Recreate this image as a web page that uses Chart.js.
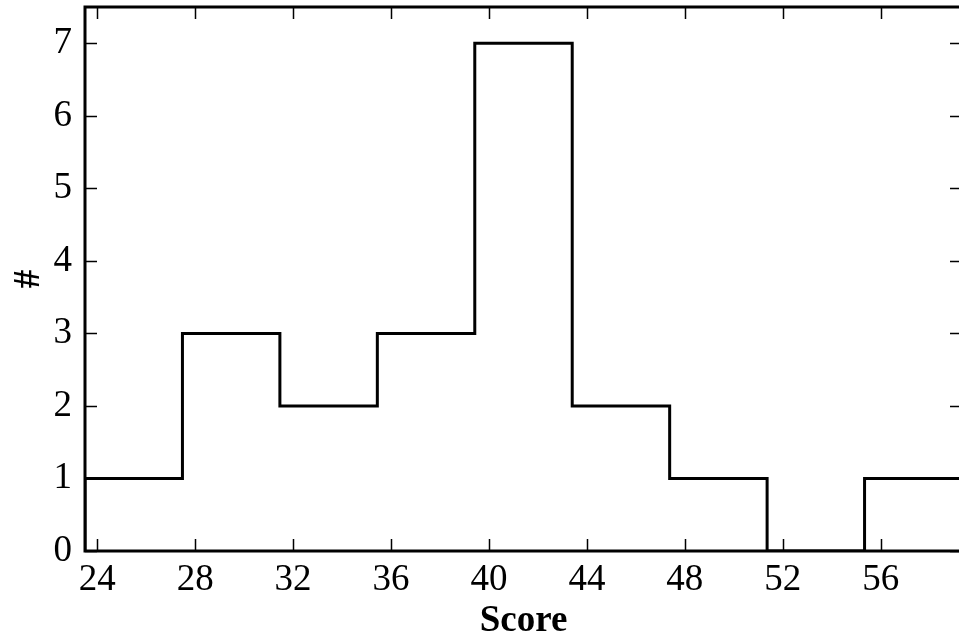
<!DOCTYPE html>
<html>
<head>
<meta charset="utf-8">
<script src="https://cdn.jsdelivr.net/npm/chart.js@4/dist/chart.umd.min.js"></script>
<style>
  html, body { margin: 0; padding: 0; background: #fff; overflow: hidden; }
  canvas { display: block; }
</style>
</head>
<body>
<canvas id="hist" width="966" height="637"></canvas>
<script>
// histogram bins (edges) and counts
const binEdges = [23.5, 27.48, 31.46, 35.44, 39.42, 43.4, 47.38, 51.36, 55.34, 59.32];
const binCounts = [1, 3, 2, 3, 7, 2, 1, 0, 1];
const xTickLabels = [24, 28, 32, 36, 40, 44, 48, 52, 56];
const yTickLabels = [0, 1, 2, 3, 4, 5, 6, 7];

const FONT = "'Liberation Serif', 'Times New Roman', serif";

// outline points for a step histogram
const points = [{ x: binEdges[0], y: 0 }];
binCounts.forEach((c, i) => points.push({ x: binEdges[i], y: c }));
points.push({ x: binEdges[binEdges.length - 1], y: binCounts[binCounts.length - 1] });
points.push({ x: binEdges[binEdges.length - 1], y: 0 });

// ticks pointing inward on all four sides, plus the frame
const frameAndTicks = {
  id: 'frameAndTicks',
  afterDatasetsDraw(chart) {
    const { ctx, chartArea: a, scales: { x, y } } = chart;
    const len = 12;
    ctx.save();
    ctx.strokeStyle = '#000';
    ctx.lineWidth = 1.5;
    ctx.beginPath();
    x.ticks.forEach(t => {
      const px = Math.round(x.getPixelForValue(t.value)) + 0.5;
      ctx.moveTo(px, a.bottom); ctx.lineTo(px, a.bottom - len);
      ctx.moveTo(px, a.top); ctx.lineTo(px, a.top + len);
    });
    y.ticks.forEach(t => {
      const py = Math.round(y.getPixelForValue(t.value)) + 0.5;
      ctx.moveTo(a.left, py); ctx.lineTo(a.left + len, py);
      ctx.moveTo(a.right, py); ctx.lineTo(a.right - len, py);
    });
    ctx.stroke();
    ctx.lineWidth = 3;
    ctx.strokeRect(a.left, a.top, a.right - a.left, a.bottom - a.top);
    ctx.restore();
  }
};

new Chart(document.getElementById('hist'), {
  type: 'line',
  data: {
    datasets: [{
      data: points,
      stepped: 'before',
      borderColor: '#000',
      borderWidth: 3,
      fill: false,
      pointRadius: 0
    }]
  },
  options: {
    responsive: false,
    animation: false,
    layout: { padding: { top: 7, right: 4, left: 0, bottom: 0 } },
    plugins: { legend: { display: false }, tooltip: { enabled: false } },
    scales: {
      x: {
        type: 'linear',
        min: binEdges[0],
        max: binEdges[binEdges.length - 1],
        afterBuildTicks: s => { s.ticks = xTickLabels.map(v => ({ value: v })); },
        afterFit: s => { s.height = 86; s.paddingLeft = 0; s.paddingRight = 0; },
        grid: { display: false, drawTicks: false },
        border: { display: false },
        ticks: { color: '#000', padding: 7, maxRotation: 0, autoSkip: false, font: { family: FONT, size: 37 } },
        title: { display: true, text: 'Score', color: '#000', padding: { top: 0, bottom: -7 }, font: { family: FONT, size: 37, weight: 'bold', lineHeight: 1.2 } }
      },
      y: {
        min: 0,
        max: 7.5,
        afterBuildTicks: s => { s.ticks = yTickLabels.map(v => ({ value: v })); },
        afterFit: s => { s.width = 85; s.paddingTop = 0; s.paddingBottom = 0; },
        grid: { display: false, drawTicks: false },
        border: { display: false },
        ticks: { color: '#000', padding: 13, autoSkip: false, font: { family: FONT, size: 37 } },
        title: { display: true, text: '#', color: '#000', padding: { top: 7, bottom: 0 }, font: { family: FONT, size: 37, weight: 'bold', lineHeight: 1.2 } }
      }
    }
  },
  plugins: [frameAndTicks]
});
</script>
</body>
</html>
